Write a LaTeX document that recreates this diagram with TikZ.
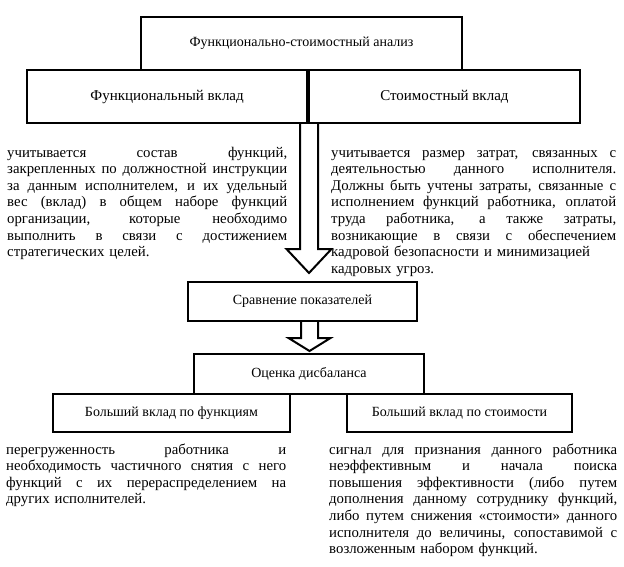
\documentclass[tikz,border=0pt]{standalone}
\usepackage{fontspec}
\usepackage{graphicx}
\setmainfont{Liberation Serif}
\usetikzlibrary{calc}
\newcommand{\jl}[1]{\leavevmode\begingroup\spaceskip=0.25em plus 20em minus 0.05em\relax
  \xspaceskip=\spaceskip\setbox0\hbox{#1}%
  \ifdim\wd0>\hsize\resizebox{\hsize}{\height}{\box0}\else\hbox to\hsize{\unhbox0}\fi\endgroup\\}
\begin{document}
\begin{tikzpicture}[x=1pt,y=-1pt,
  box/.style={draw, line width=2.6pt, fill=white, inner sep=0pt, align=center,
    font=\fontsize{14}{16}\selectfont},
  bigbox/.style={box, font=\fontsize{15}{17}\selectfont},
  blockarrow/.style={draw, line width=2pt, fill=white, line join=miter},
  body/.style={inner sep=0pt, anchor=base west, text width=#1,
    font=\fontsize{14.8}{16.6}\selectfont}
]
\useasboundingbox (0,0) rectangle (624,566);

% arrows (drawn first so box borders cover their open ends)
\coordinate (a1top) at (309,123);
\coordinate (a1tip) at (309,273);
\draw[blockarrow] ($(a1top)+(-9,0)$) -- ($(a1tip)+(-9,-24)$) -- ($(a1tip)+(-22.5,-24)$)
  -- (a1tip) -- ($(a1tip)+(22.5,-24)$) -- ($(a1tip)+(9,-24)$) -- ($(a1top)+(9,0)$);

\coordinate (a2top) at (309.5,321);
\coordinate (a2tip) at (309.5,351);
\draw[blockarrow] ($(a2top)+(-8.5,0)$) -- ($(a2tip)+(-8.5,-13)$) -- ($(a2tip)+(-21,-13)$)
  -- (a2tip) -- ($(a2tip)+(21,-13)$) -- ($(a2tip)+(8.5,-13)$) -- ($(a2top)+(8.5,0)$);

% boxes
\node[box, minimum width=321pt, minimum height=53pt] (fsa) at (301.5,43.5) {Функционально-стоимостный анализ};
\node[bigbox, minimum width=280.2pt, minimum height=53pt] (func) at (167.1,96.5) {Функциональный вклад};
\node[bigbox, minimum width=271.2pt, minimum height=53pt] (cost) at (444.4,96.5) {Стоимостный вклад};

\node[box, minimum width=229pt, minimum height=39pt] (cmp) at (302.5,301.5) {Сравнение показателей};
\node[box, minimum width=230pt, minimum height=40pt] (imb) at (309,374) {Оценка дисбаланса};

\node[box, minimum width=237pt, minimum height=38pt] (mf) at (171.5,413) {Больший вклад по функциям};
\node[box, minimum width=225pt, minimum height=38pt] (mc) at (459.5,413) {Больший вклад по стоимости};

% texts
\node[body=280pt] (tfunc) at (7,157) {%
\jl{учитывается состав функций,}
\jl{закрепленных по должностной инструкции}
\jl{за данным исполнителем, и их удельный}
\jl{вес (вклад) в общем наборе функций}
\jl{организации, которые необходимо}
\jl{выполнить в связи с достижением}
стратегических целей.};

\node[body=285pt] (tcost) at (331,157) {%
\jl{учитывается размер затрат, связанных с}
\jl{деятельностью данного исполнителя.}
\jl{Должны быть учтены затраты, связанные с}
\jl{исполнением функций работника, оплатой}
\jl{труда работника, а также затраты,}
\jl{возникающие в связи с обеспечением}
кадровой безопасности и минимизацией\\
кадровых угроз.};

\node[body=280pt] (tmf) at (6,454) {%
\jl{перегруженность работника и}
\jl{необходимость частичного снятия с него}
\jl{функций с их перераспределением на}
других исполнителей.};

\node[body=288pt] (tmc) at (329,454) {%
\jl{сигнал для признания данного работника}
\jl{неэффективным и начала поиска}
\jl{повышения эффективности (либо путем}
\jl{дополнения данному сотруднику функций,}
\jl{либо путем снижения «стоимости» данного}
\jl{исполнителя до величины, сопоставимой с}
возложенным набором функций.};
\end{tikzpicture}
\end{document}
